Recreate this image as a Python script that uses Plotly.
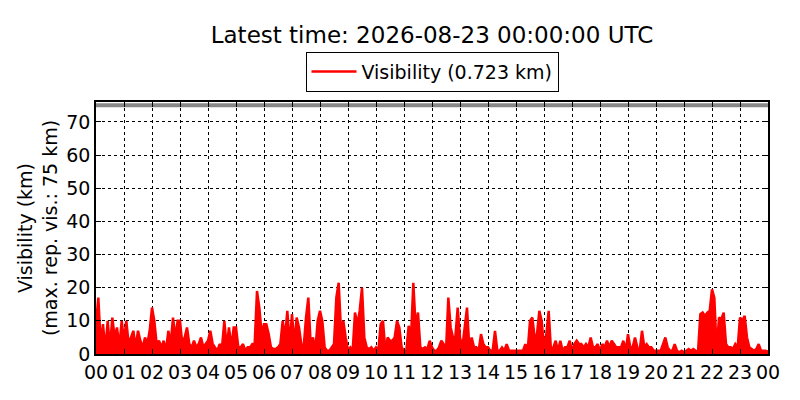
import datetime
import plotly.graph_objs as go

# visibility in km, 5-minute steps
vis_00_05 = [
    9, 17, 3, 9, 1, 10, 2, 11, 5, 8, 2, 10,
    4, 10, 3, 5, 7, 2, 7, 4, 2, 5, 3, 7,
    14, 10, 3, 4, 2, 4, 1, 7, 3, 11, 5, 10,
    10, 3, 5, 8, 3, 2, 4, 2, 3, 5, 2, 3,
    4, 7, 3, 2, 1, 3, 2, 10, 2, 8, 2, 8,
    8, 2, 2, 3, 1, 2, 2, 3, 3, 19, 14, 6,
]
vis_06_11 = [
    9, 9, 6, 2, 1.5, 1.5, 2, 3, 10, 5, 13, 3,
    12, 3, 11, 8, 3, 2, 11, 17, 3, 5, 1, 10,
    13, 10, 2, 1, 1, 2, 3, 17, 21.5, 7, 10, 5,
    1, 2, 1, 12.5, 9, 13, 20, 5, 2, 1.5, 2, 1,
    2, 1, 9, 10, 1, 5, 4, 4, 5, 10, 8, 2,
    1, 1, 8.5, 5, 21.5, 8, 12.5, 2, 1.5, 2, 1.5, 4,
]
vis_12_17 = [
    2, 1, 1, 2, 4, 3, 1, 17, 8, 5, 5, 14,
    5, 2, 8, 14, 2, 5, 2, 2, 1, 6, 3, 2,
    2, 1, 1, 7, 1, 1, 2, 1, 3, 1, 1, 1,
    1, 1, 1, 1, 3, 1, 10, 11, 5, 6, 13, 10,
    2, 6, 13, 1, 2, 4, 1, 4, 1, 2, 2, 4,
    1, 3, 4, 3, 3, 2, 3, 2, 5, 2, 2, 3,
]
vis_18_23 = [
    1, 3, 2, 4, 2, 4, 3, 2, 2, 2, 4, 1,
    6, 2, 2, 5, 2, 1, 7, 2, 3, 2, 2, 1,
    1, 1, 1, 3, 5, 2, 1, 1, 3, 1, 0.5, 1,
    0.5, 1, 1.5, 1, 1.5, 1, 0.5, 12, 12.5, 11.5, 12.5, 13,
    19.5, 17, 1, 11, 10.5, 12.5, 3, 2, 2, 1.5, 3, 2,
    11, 10, 11.5, 5, 2, 1.5, 1, 1.5, 3, 1, 1, 1,
]
latest_vis = 0.723
max_rep_vis = 75

start = datetime.datetime(2026, 8, 22, 0, 0)
end = datetime.datetime(2026, 8, 23, 0, 0)

values = vis_00_05 + vis_06_11 + vis_12_17 + vis_18_23 + [latest_vis]
times = [start + datetime.timedelta(minutes=5 * i) for i in range(len(values))]

font = "DejaVu Sans"
# the page puts the figure 8px in from the top-left corner
off = 8
red = "#ff0000"

fig = go.Figure(
    data=[
        go.Scatter(
            x=[start, end],
            y=[max_rep_vis, max_rep_vis],
            mode="lines",
            line=dict(color="#888888", width=4),
            showlegend=False,
            hoverinfo="skip",
        ),
        # the 1-min data in the original is so dense it reads as a solid mass
        go.Scatter(
            x=times,
            y=values,
            mode="lines",
            line=dict(width=0),
            fill="tozeroy",
            fillcolor=red,
            showlegend=False,
            hoverinfo="skip",
        ),
        go.Scatter(
            x=times,
            y=values,
            mode="lines",
            name="Visibility (%.3f km)" % latest_vis,
            line=dict(color=red, width=2.5),
        ),
    ],
    layout=go.Layout(
        width=800,
        height=400,
        paper_bgcolor="white",
        plot_bgcolor="white",
        margin=dict(l=96 - off, r=32 + off, t=102 - off, b=46 + off),
        font=dict(family=font, size=19, color="black"),
        title=dict(
            text="Latest time: %s UTC" % end.strftime("%Y-%m-%d %H:%M:%S"),
            x=(432 - off) / 800,
            xanchor="center",
            y=1 - (35 - off) / 400,
            yanchor="middle",
            font=dict(size=23),
        ),
        legend=dict(
            x=0.5,
            xanchor="center",
            y=1.12,
            yanchor="middle",
            bordercolor="black",
            borderwidth=1,
            itemwidth=45,
            font=dict(size=19),
        ),
        xaxis=dict(
            range=[start, end],
            dtick=3600000,
            tickformat="%H",
            ticks="inside",
            ticklen=5,
            tickcolor="black",
            showline=True,
            linecolor="black",
            linewidth=1.5,
            mirror="allticks",
            showgrid=True,
            gridcolor="black",
            griddash="dot",
            gridwidth=1,
            zeroline=False,
            layer="above traces",
        ),
        yaxis=dict(
            range=[0, 76],
            dtick=10,
            ticks="inside",
            ticklen=5,
            tickcolor="black",
            showline=True,
            linecolor="black",
            linewidth=1.5,
            mirror="allticks",
            showgrid=True,
            gridcolor="black",
            griddash="dot",
            gridwidth=1,
            zeroline=False,
            layer="above traces",
            title=dict(text="Visibility (km)<br>(max. rep. vis.: 75 km)", font=dict(size=19), standoff=4),
        ),
    ),
)

fig.write_html("out.html")
